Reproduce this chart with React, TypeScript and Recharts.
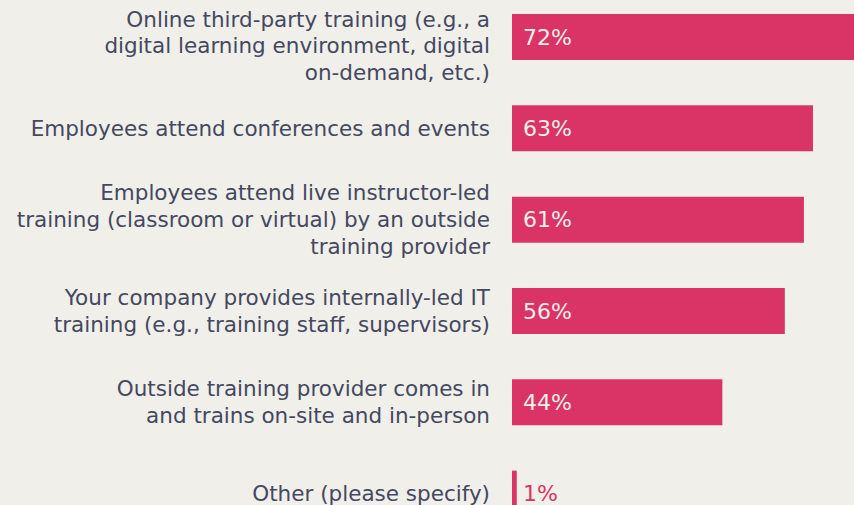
import React from "react";
import { BarChart, Bar, XAxis, YAxis, LabelList } from "recharts";

const categories: string[] = [
  "Online third-party training (e.g., a\ndigital learning environment, digital\non-demand, etc.)",
  "Employees attend conferences and events",
  "Employees attend live instructor-led\ntraining (classroom or virtual) by an outside\ntraining provider",
  "Your company provides internally-led IT\ntraining (e.g., training staff, supervisors)",
  "Outside training provider comes in\nand trains on-site and in-person",
  "Other (please specify)",
];
const values: number[] = [72, 63.1, 61.2, 57.2, 44.1, 1];
const valueLabels: string[] = ["72%", "63%", "61%", "56%", "44%", "1%"];

const data = categories.map((name, i) => ({ name, value: values[i], label: valueLabels[i] }));

const BG = "#f0efe9";
const PINK = "#da3466";
const TEXT = "#444860";
const FONT = "'DejaVu Sans', sans-serif";

const CategoryTick = (props: any) => {
  const { x, y, payload } = props;
  const lines: string[] = String(payload.value).split("\n");
  const lh = 26.7;
  let first = y - ((lines.length - 1) * lh) / 2;
  if (first < 28) first = 28;
  return (
    <g>
      {lines.map((l, i) => (
        <text
          key={i}
          x={x}
          y={first + i * lh}
          textAnchor="end"
          dominantBaseline="central"
          fill={TEXT}
          fontSize={21.5}
          fontFamily={FONT}
        >
          {l}
        </text>
      ))}
    </g>
  );
};

const ValueLabel = (props: any) => {
  const { x, y, width, height, value } = props;
  const inside = width > 40;
  return (
    <text
      x={x + 11}
      y={y + height / 2}
      dominantBaseline="central"
      fill={inside ? BG : PINK}
      fontSize={22}
      fontFamily={FONT}
    >
      {value}
    </text>
  );
};

export default function App() {
  return (
    <div
      style={{
        position: "absolute",
        left: 0,
        top: 0,
        width: 854,
        height: 505,
        overflow: "hidden",
        background: BG,
      }}
    >
      <div style={{ position: "absolute", left: 0, top: -9 }}>
        <BarChart
          width={854}
          height={548}
          data={data}
          layout="vertical"
          margin={{ top: 0, right: 0, bottom: 0, left: 0 }}
          barSize={46}
        >
          <XAxis type="number" hide domain={[0, 71.7]} allowDataOverflow />
          <YAxis
            type="category"
            dataKey="name"
            width={512}
            axisLine={false}
            tickLine={false}
            tickSize={0}
            tickMargin={22}
            interval={0}
            tick={<CategoryTick />}
          />
          <Bar dataKey="value" fill={PINK} isAnimationActive={false}>
            <LabelList dataKey="label" content={<ValueLabel />} />
          </Bar>
        </BarChart>
      </div>
    </div>
  );
}
